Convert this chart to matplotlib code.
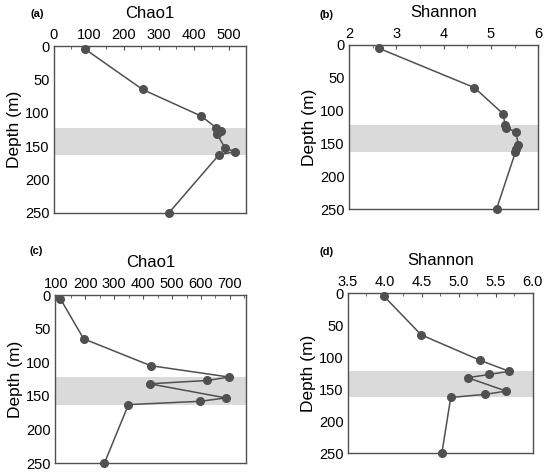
import matplotlib
matplotlib.use("Agg")
import matplotlib.pyplot as plt
from matplotlib.ticker import AutoMinorLocator

plt.rcParams['font.family'] = ['Liberation Sans', 'DejaVu Sans']

depth = [5, 65, 105, 122, 127, 132, 153, 158, 163, 250]

chao1_a = [90, 253, 421, 462, 478, 466, 489, 517, 471, 328]
shannon_b = [2.63, 4.65, 5.26, 5.30, 5.33, 5.53, 5.58, 5.53, 5.52, 5.12]
chao1_c = [113, 194, 426, 698, 622, 422, 686, 598, 349, 266]
shannon_d = [3.99, 4.49, 5.29, 5.68, 5.41, 5.12, 5.64, 5.36, 4.89, 4.77]

band = (122, 163)  # shaded depth layer

panels = [
    ("(a)", "Chao1", chao1_a, (0, 548), [0, 100, 200, 300, 400, 500], None),
    ("(b)", "Shannon", shannon_b, (2, 6), [2, 3, 4, 5, 6], None),
    ("(c)", "Chao1", chao1_c, (95, 755), [100, 200, 300, 400, 500, 600, 700], None),
    ("(d)", "Shannon", shannon_d, (3.5, 6.0), [3.5, 4.0, 4.5, 5.0, 5.5, 6.0], "%.1f"),
]

# axes boxes in figure fractions [left, bottom, width, height]
boxes = [
    [0.098, 0.5497, 0.349, 0.353],
    [0.6345, 0.558, 0.344, 0.347],
    [0.100, 0.021, 0.347, 0.355],
    [0.6327, 0.042, 0.336, 0.338],
]
# panel tag positions (figure fractions)
tag_pos = [(0.068, 0.970), (0.5945, 0.968), (0.066, 0.469), (0.5945, 0.467)]

fig = plt.figure(figsize=(5.5, 4.73), dpi=100)

for (tag, name, vals, xlim, xticks, fmt), box, tp in zip(panels, boxes, tag_pos):
    ax = fig.add_axes(box)
    ax.axhspan(band[0], band[1], color="#dadada", zorder=0, lw=0)
    ax.plot(vals, depth, color="#505050", lw=1.1, marker="o", ms=5.5,
            mfc="#505050", mec="#505050", zorder=3, clip_on=False)
    ax.set_xlim(*xlim)
    ax.set_ylim(250, 0)
    ax.set_xticks(xticks)
    if fmt:
        ax.set_xticklabels([fmt % t for t in xticks])
    ax.set_yticks([0, 50, 100, 150, 200, 250])
    ax.xaxis.tick_top()
    ax.xaxis.set_minor_locator(AutoMinorLocator(2))
    ax.tick_params(axis="both", which="both", direction="in", labelsize=10.5,
                   color="#505050", pad=3)
    ax.tick_params(axis="both", which="major", length=3)
    ax.tick_params(axis="both", which="minor", length=2)
    ax.tick_params(axis="y", which="both", left=False)
    ax.tick_params(axis="x", which="both", top=True, bottom=False)
    for s in ax.spines.values():
        s.set_color("#505050")
        s.set_linewidth(1)
    ax.set_ylabel("Depth (m)", fontsize=12.5, labelpad=2)
    ax.set_title(name, fontsize=12, pad=7)
    fig.text(tp[0], tp[1], tag, fontsize=8, fontweight="bold",
             ha="center", va="center")

fig.savefig("out.png", dpi=100)
